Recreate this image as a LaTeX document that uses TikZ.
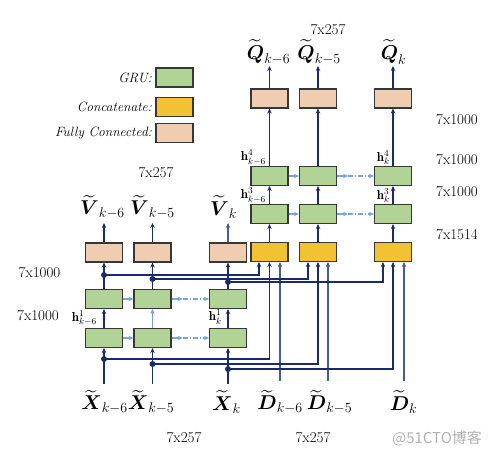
\RequirePackage{fix-cm}
\documentclass[tikz,border=0pt]{standalone}
\usepackage{amsmath,amsbsy}
\usepackage{fontspec}
\newfontfamily\cjk{Noto Sans CJK SC}
\usetikzlibrary{arrows.meta}
\definecolor{navy}{RGB}{27,42,107}
\definecolor{dcol}{RGB}{70,92,150}
\definecolor{midb}{RGB}{130,152,200}
\definecolor{lblue}{RGB}{120,165,220}
\definecolor{boxline}{RGB}{55,55,55}
\definecolor{grufill}{RGB}{178,211,150}
\definecolor{catfill}{RGB}{242,194,50}
\definecolor{fcfill}{RGB}{240,204,176}
\begin{document}
\begin{tikzpicture}[x=1pt,y=-1pt,
  box/.style={draw=boxline,line width=1.1pt,minimum width=37pt,minimum height=19pt,inner sep=0pt},
  gru/.style={box,fill=grufill},
  cat/.style={box,fill=catfill},
  fc/.style={box,fill=fcfill},
  tip/.style={-{Stealth[length=5pt,width=4.5pt]}},
  conn/.style={navy,line width=1.1pt,tip},
  rec/.style={lblue,line width=1.1pt,tip},
  dashd/.style={dash pattern=on 5pt off 2pt on 1.2pt off 2pt},
  dotn/.style={circle,fill=navy,inner sep=0pt,minimum size=6pt},
  dim/.style={font=\fontsize{15}{17}\selectfont,inner sep=0pt},
  leg/.style={font=\fontsize{13.5}{15}\selectfont\itshape,inner sep=0pt},
  big/.style={font=\fontsize{20}{22}\selectfont,inner sep=0pt},
  hl/.style={font=\fontsize{13}{14}\selectfont,inner sep=0pt}]
\useasboundingbox (0,0) rectangle (498,456);

% legend
\node[gru] (lg) at (174.5,77.5) {};
\node[cat] (lc) at (174.5,107) {};
\node[fc] (lf) at (174.5,133) {};
\node[leg,anchor=east] (lgt) at (152,77.5) {GRU:};
\node[leg,anchor=east] (lct) at (152,107) {Concatenate:};
\node[leg,anchor=east] (lft) at (152,133) {Fully Connected:};

% left blocks
\node[fc] (f1) at (104,252.5) {};
\node[fc] (f2) at (152.5,252.5) {};
\node[fc] (f3) at (228,252.5) {};
\node[gru] (b1) at (104,299) {};
\node[gru] (b2) at (152.5,299) {};
\node[gru] (b3) at (228,299) {};
\node[gru] (a1) at (104,338) {};
\node[gru] (a2) at (152.5,338) {};
\node[gru] (a3) at (228,338) {};

% right blocks
\node[cat] (k1) at (269.5,252) {};
\node[cat] (k2) at (318,252) {};
\node[cat] (k3) at (393,252) {};
\node[gru] (r1) at (269.5,214) {};
\node[gru] (r2) at (318,214) {};
\node[gru] (r3) at (393,214) {};
\node[gru] (s1) at (269.5,176) {};
\node[gru] (s2) at (318,176) {};
\node[gru] (s3) at (393,176) {};
\node[fc] (q1) at (269.5,98.5) {};
\node[fc] (q2) at (318,98.5) {};
\node[fc] (q3) at (393,98.5) {};

% coordinates
\coordinate (ix1) at (104,384);
\coordinate (ix2) at (152.5,384);
\coordinate (ix3) at (228,384);
\coordinate (id1) at (280,381);
\coordinate (id2) at (328,381);
\coordinate (id3) at (404,381);
\coordinate (ov1) at (104,223);
\coordinate (ov2) at (152.5,223);
\coordinate (ov3) at (228,223);
\coordinate (oq1) at (269.5,66);
\coordinate (oq2) at (318,66);
\coordinate (oq3) at (393,66);

% inputs
\draw[conn] (ix1) -- (a1.south);
\draw[conn] (ix2) -- (a2.south);
\draw[conn] (ix3) -- (a3.south);
\draw[conn,dcol] (id1) -- (id1 |- k1.south);
\draw[conn,dcol] (id2) -- (id2 |- k2.south);
\draw[conn,dcol] (id3) -- (id3 |- k3.south);

% left vertical
\draw[conn] (a1) -- (b1);
\draw[conn,midb] (a2) -- (b2);
\draw[conn] (a3) -- (b3);
\draw[conn] (b1) -- (f1);
\draw[conn] (b2) -- (f2);
\draw[conn] (b3) -- (f3);
\draw[conn] (f1.north) -- (ov1);
\draw[conn] (f2.north) -- (ov2);
\draw[conn,dcol] (f3.north) -- (ov3);

% right vertical
\draw[conn] (k1) -- (r1);
\draw[conn] (k2) -- (r2);
\draw[conn] (k3) -- (r3);
\draw[conn] (r1) -- (s1);
\draw[conn] (r2) -- (s2);
\draw[conn] (r3) -- (s3);
\draw[conn] (s1) -- (q1);
\draw[conn] (s2) -- (q2);
\draw[conn] (s3) -- (q3);
\draw[conn] (q1.north) -- (oq1);
\draw[conn] (q2.north) -- (oq2);
\draw[conn] (q3.north) -- (oq3);

% dots and skip connections
\node[dotn] (dx1) at (104,359) {};
\node[dotn] (dx2) at (152.5,364) {};
\node[dotn] (dx3) at (228,369) {};
\node[dotn] (dv1) at (104,275) {};
\node[dotn] (dv2) at (152.5,279) {};
\node[dotn] (dv3) at (228,282) {};
\draw[conn] (dx1.center) -| (k1.south);
\draw[conn] (dx2.center) -| (k2.south);
\draw[conn] (dx3.center) -| (k3.south);
\draw[conn] (dv1.center) -| ([xshift=-10.5pt]k1.south);
\draw[conn] (dv2.center) -| ([xshift=-10pt]k2.south);
\draw[conn] (dv3.center) -| ([xshift=-10pt]k3.south);

% recurrent connections
\draw[rec] (a1) -- (a2);
\coordinate (am) at ([xshift=11pt]a2.east);
\draw[rec] (a2.east) -- (am);
\draw[rec,dashd] (am) -- (a3.west);
\draw[rec] (b1) -- (b2);
\coordinate (bm) at ([xshift=11pt]b2.east);
\draw[rec] (b2.east) -- (bm);
\draw[rec,dashd] (bm) -- (b3.west);
\draw[rec] (r1) -- (r2);
\coordinate (rm) at ([xshift=11pt]r2.east);
\draw[rec] (r2.east) -- (rm);
\draw[rec,dashd] (rm) -- (r3.west);
\draw[rec] (s1) -- (s2);
\coordinate (sm) at ([xshift=11pt]s2.east);
\draw[rec] (s2.east) -- (sm);
\draw[rec,dashd] (sm) -- (s3.west);

% hidden state labels
\node[hl,anchor=east] (h1a) at (97,318) {$\mathbf{h}^1_{k-6}$};
\node[hl,anchor=east] (h1b) at (222,317) {$\mathbf{h}^1_{k}$};
\node[hl,anchor=east] (h3a) at (266,195.5) {$\mathbf{h}^3_{k-6}$};
\node[hl,anchor=east] (h3b) at (390,195.5) {$\mathbf{h}^3_{k}$};
\node[hl,anchor=east] (h4a) at (266,157.5) {$\mathbf{h}^4_{k-6}$};
\node[hl,anchor=east] (h4b) at (390,157.5) {$\mathbf{h}^4_{k}$};

% dimension labels
\node[dim] (d1) at (39.5,273) {7x1000};
\node[dim] (d2) at (38,316) {7x1000};
\node[dim] (d3) at (457,120) {7x1000};
\node[dim] (d4) at (457,160) {7x1000};
\node[dim] (d5) at (457,192) {7x1000};
\node[dim] (d6) at (457,235) {7x1514};
\node[dim] (d7) at (156,173) {7x257};
\node[dim] (d8) at (328,30) {7x257};
\node[dim] (d9) at (184,438) {7x257};
\node[dim] (d10) at (313,438) {7x257};

% signal labels
\node[big] (V1) at (102.5,207) {$\widetilde{\boldsymbol{V}}_{k-6}$};
\node[big] (V2) at (152.5,207) {$\widetilde{\boldsymbol{V}}_{k-5}$};
\node[big] (V3) at (223.5,207) {$\widetilde{\boldsymbol{V}}_{k}$};
\node[big] (Q1) at (268.5,52) {$\widetilde{\boldsymbol{Q}}_{k-6}$};
\node[big] (Q2) at (319,52) {$\widetilde{\boldsymbol{Q}}_{k-5}$};
\node[big] (Q3) at (393.5,52) {$\widetilde{\boldsymbol{Q}}_{k}$};
\node[big] (X1) at (104.5,402) {$\widetilde{\boldsymbol{X}}_{k-6}$};
\node[big] (X2) at (151,402) {$\widetilde{\boldsymbol{X}}_{k-5}$};
\node[big] (X3) at (226.5,402) {$\widetilde{\boldsymbol{X}}_{k}$};
\node[big] (D1) at (280,402) {$\widetilde{\boldsymbol{D}}_{k-6}$};
\node[big] (D2) at (329.5,402) {$\widetilde{\boldsymbol{D}}_{k-5}$};
\node[big] (D3) at (403.5,402) {$\widetilde{\boldsymbol{D}}_{k}$};

% watermark
\node[font=\cjk\fontsize{15}{17}\selectfont,text=black!30,inner sep=0pt] (wm) at (437,438) {@51CTO博客};
\end{tikzpicture}
\end{document}
